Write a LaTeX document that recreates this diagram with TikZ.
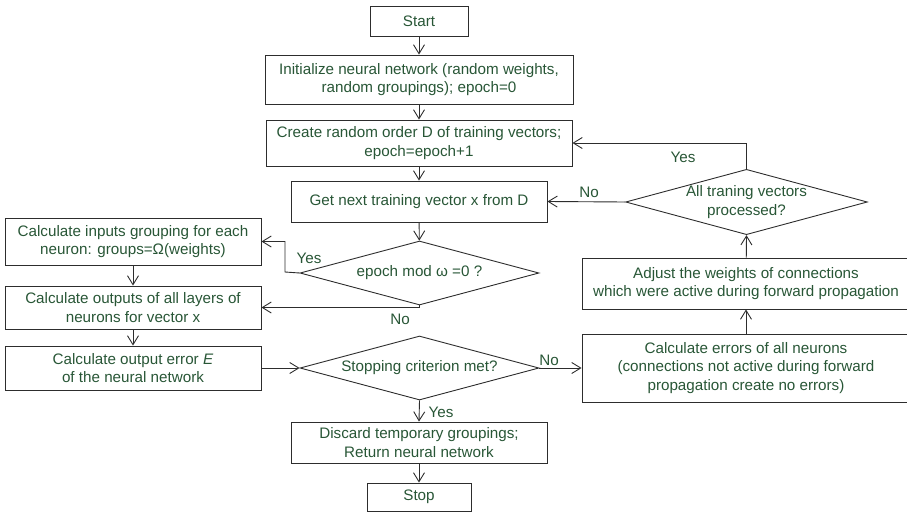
\documentclass[tikz,border=0pt]{standalone}
\usepackage{fontspec}
\setmainfont{Liberation Sans}
\usepackage{tikz}
\usetikzlibrary{arrows.meta,shapes.geometric}
\definecolor{txtgreen}{RGB}{40,86,54}
\definecolor{edgegray}{RGB}{45,45,45}
\tikzset{
  stepbox/.style={draw=edgegray,line width=0.9pt,align=center,inner sep=2pt},
  askbox/.style={draw=edgegray,line width=0.9pt,shape=diamond,aspect=3.7,inner sep=0pt,
    minimum width=239,minimum height=64,align=center},
  flowline/.style={edgegray,line width=0.9pt,-{Straight Barb[length=9pt,width=11pt]}},
  tagtext/.style={inner sep=0pt}
}
\def\stepnode{\node[stepbox]}
\def\asknode{\node[askbox]}
\def\tagnode{\node[tagtext]}
\def\drawflow{\draw[flowline]}

\begin{document}
\begin{tikzpicture}[x=1pt,y=-1pt,every node/.style={font=\fontsize{15.2}{18.5}\selectfont,text=txtgreen}]
\useasboundingbox (0,0) rectangle (907,514);
% main column
\stepnode (start) at (419,21) [minimum width=98,minimum height=30] {Start};
\stepnode (init) at (419,79.5) [minimum width=308,minimum height=49] {Initialize neural network (random weights,\\random groupings); epoch=0};
\stepnode (order) at (419,143) [minimum width=306,minimum height=46] {Create random order D of training vectors;\\epoch=epoch+1};
\stepnode (next) at (419,201.5) [minimum width=256,minimum height=41] {Get next training vector x from D};
\asknode (modtest) at (419.5,273) {epoch mod ω =0 ?};
\asknode (stopcrit) at (419.5,368) {Stopping criterion met?};
\stepnode (discard) at (419,442.5) [minimum width=256,minimum height=41] {Discard temporary groupings;\\Return neural network};
\stepnode (stop) at (419,497) [minimum width=104,minimum height=28] {Stop};
% left column
\stepnode (groups) at (133,241.5) [minimum width=256,minimum height=47] {Calculate inputs grouping for each\\neuron: groups=Ω(weights)};
\stepnode (outputs) at (133,307.5) [minimum width=256,minimum height=43] {Calculate outputs of all layers of\\neurons for vector x};
\stepnode (error) at (133,368) [minimum width=256,minimum height=44] {Calculate output error \textit{E}\\of the neural network};
% right column
\asknode (alldone) at (746.5,202) {All traning vectors\\processed?};
\stepnode (adjust) at (746,283.5) [minimum width=328,minimum height=51] {Adjust the weights of connections\\which were active during forward propagation};
\stepnode (backprop) at (746,368) [minimum width=328,minimum height=68] {Calculate errors of all neurons\\(connections not active during forward\\propagation create no errors)};
% connectors
\drawflow (start) -- (init);
\drawflow (init) -- (order);
\drawflow (order) -- (next);
\drawflow (next) -- (modtest);
\drawflow (modtest.west) -- (285,272) |- (groups.east);
\drawflow (modtest.south) |- (outputs.east);
\drawflow (groups) -- (outputs);
\drawflow (outputs) -- (error);
\drawflow (error) -- (stopcrit.west);
\drawflow (stopcrit.east) -- (backprop.west);
\drawflow (stopcrit.south) -- (discard.north);
\drawflow (discard) -- (stop);
\drawflow (backprop) -- (adjust);
\drawflow (adjust) -- (alldone.south);
\drawflow (alldone.north) |- (order.east);
\drawflow (alldone.west) -- (next.east);
% labels
\tagnode (yesmod) at (309,258) {Yes};
\tagnode (nomod) at (400,319) {No};
\tagnode (nostop) at (549,360) {No};
\tagnode (yesstop) at (441,412) {Yes};
\tagnode (yesdone) at (683,157) {Yes};
\tagnode (nodone) at (589,192) {No};
\end{tikzpicture}
\end{document}
